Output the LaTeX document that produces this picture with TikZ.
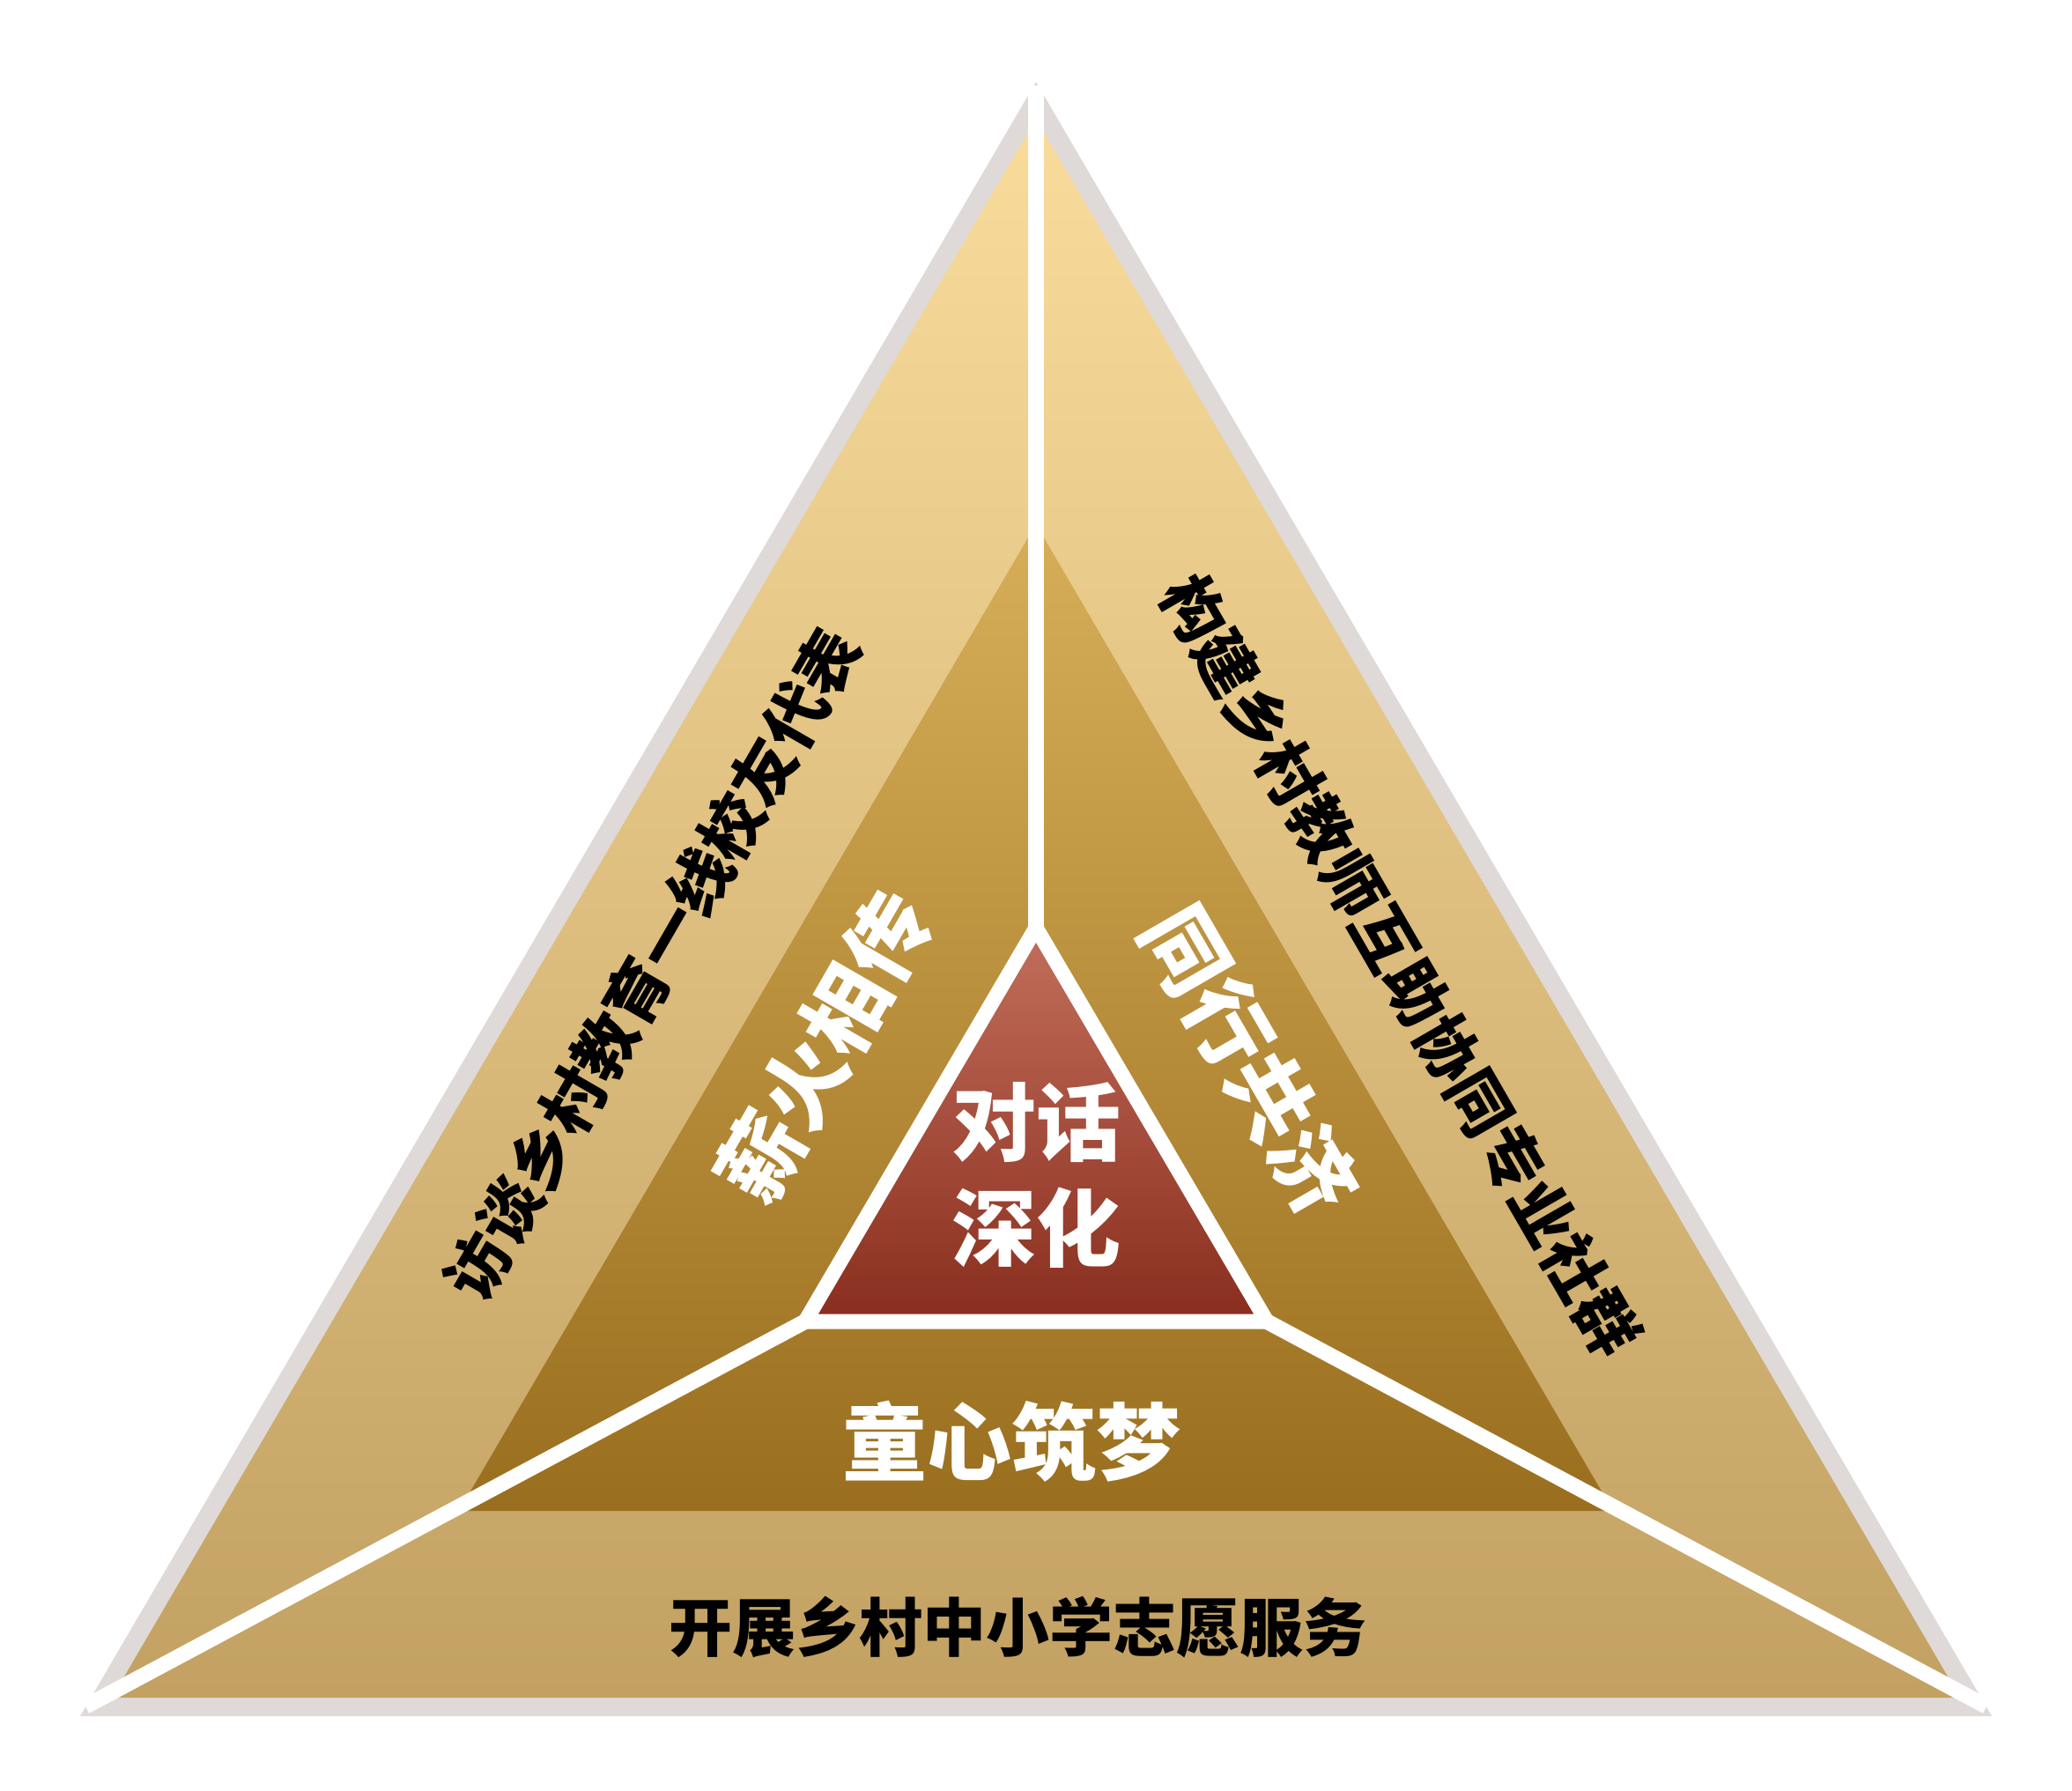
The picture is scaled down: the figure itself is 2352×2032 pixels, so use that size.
\documentclass[tikz,border=0pt]{standalone}
\usepackage{fontspec}
\newfontfamily\cjk{Noto Sans CJK SC}
\definecolor{graybd}{RGB}{223,218,215}
\definecolor{goldT}{RGB}{249,220,156}
\definecolor{goldB}{RGB}{194,161,98}
\definecolor{midT}{RGB}{215,174,88}
\definecolor{midB}{RGB}{153,111,31}
\definecolor{redT}{RGB}{195,110,92}
\definecolor{redB}{RGB}{137,46,30}
\begin{document}
\begin{tikzpicture}[x=0.25pt,y=-0.25pt,
  wline/.style={draw=white,line width=4.4pt},
  blk/.style={font=\cjk\bfseries\fontsize{18}{22}\selectfont,text=black,inner sep=0pt},
  wht/.style={font=\cjk\bfseries\fontsize{24}{30}\selectfont,text=white,inner sep=0pt,align=center}]
\useasboundingbox (0,0) rectangle (2352,2032);
% vertices
\coordinate (gA) at (1176,93);  \coordinate (gL) at (91,1948);  \coordinate (gR) at (2261,1948);
\coordinate (oA) at (1176,135); \coordinate (oL) at (127,1927); \coordinate (oR) at (2225,1927);
\coordinate (mA) at (1176,595); \coordinate (mL) at (521,1715); \coordinate (mR) at (1831,1715);
\coordinate (iA) at (1176,1053); \coordinate (iL) at (914,1500); \coordinate (iR) at (1438,1500);
\coordinate (eT) at (1176,97); \coordinate (eL) at (97,1937); \coordinate (eR) at (2255,1937);
% layers
\fill[graybd] (gA) -- (gL) -- (gR) -- cycle;
\shade[top color=goldT,bottom color=goldB] (oA) -- (oL) -- (oR) -- cycle;
\shade[top color=midT,bottom color=midB] (mA) -- (mL) -- (mR) -- cycle;
\draw[wline] (eT) -- (iA);
\draw[wline] (iL) -- (eL);
\draw[wline] (iR) -- (eR);
\shade[top color=redT,bottom color=redB] (iA) -- (iL) -- (iR) -- cycle;
\draw[draw=white,line width=4.25pt,line join=miter] (iA) -- (iL) -- (iR) -- cycle;
% texts
\node[blk,rotate=60] (tL) at (740,1094) {访谈乡村教育一线校友代表};
\node[blk,rotate=-60] (tR) at (1590,1096) {构建乡村教师互助协同专业社群};
\node[blk] (tB) at (1155,1847) {开展乡村中小学志愿服务};
\node[wht,rotate=60] (nX) at (936,1188) {薪火相传};
\node[wht,rotate=-60] (nT) at (1419,1203) {同行共济};
\node[wht] (nD) at (1148,1636) {童心筑梦};
\node[wht] (nC) at (1176,1334) {对话\\深化};
\end{tikzpicture}
\end{document}
